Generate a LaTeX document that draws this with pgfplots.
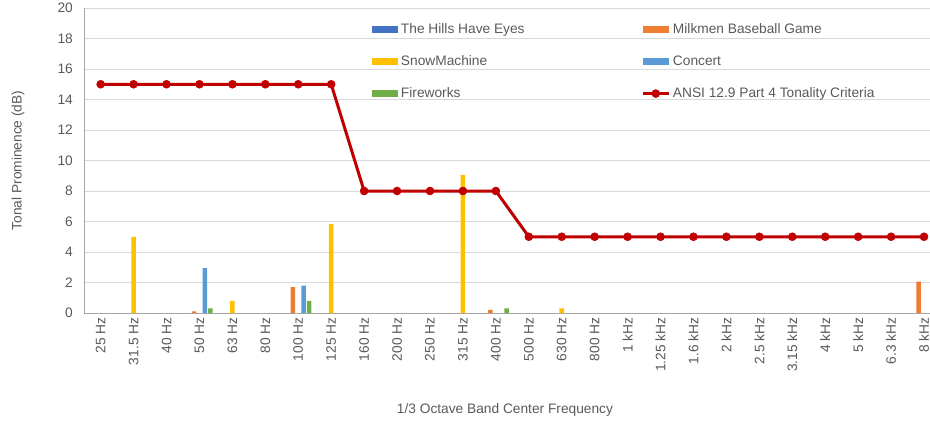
\documentclass[border=0pt]{standalone}
\usepackage{pgfplots}
\pgfplotsset{compat=1.18}
\usepackage{fontspec}
\setmainfont{Liberation Sans}
\definecolor{hills}{HTML}{4472C4}
\definecolor{milk}{HTML}{ED7D31}
\definecolor{snow}{HTML}{FFC000}
\definecolor{concert}{HTML}{5B9BD5}
\definecolor{fire}{HTML}{70AD47}
\definecolor{ansi}{HTML}{C00000}
\definecolor{txt}{HTML}{595959}
\definecolor{gridc}{HTML}{D9D9D9}
\definecolor{axc}{HTML}{A6A6A6}
\pgfplotsset{
  barleg/.style={legend image code/.code={\fill[##1] (0pt,-2.6pt) rectangle (19.5pt,2.6pt);}},
  lineleg/.style={legend image code/.code={\draw[mark repeat=2,mark phase=2,##1] plot coordinates {(0pt,0pt)(9.75pt,0pt)(19.5pt,0pt)};}},
}
\begin{document}
\begin{tikzpicture}
\begin{axis}[
  scale only axis, width=642.2pt, height=228.75pt,
  xmin=-0.5, xmax=25.5, ymin=0, ymax=20,
  ytick={0,2,...,20},
  xtick={0,...,25},
  xticklabels={25 Hz,31.5 Hz,40 Hz,50 Hz,63 Hz,80 Hz,100 Hz,125 Hz,160 Hz,200 Hz,250 Hz,315 Hz,400 Hz,500 Hz,630 Hz,800 Hz,1 kHz,1.25 kHz,1.6 kHz,2 kHz,2.5 kHz,3.15 kHz,4 kHz,5 kHz,6.3 kHz,8 kHz},
  /pgf/number format/assume math mode=true,
  x tick label style={rotate=90, anchor=east, font=\fontsize{10.3}{12}\selectfont, text=txt},
  y tick label style={font=\fontsize{10.3}{12}\selectfont, text=txt, xshift=-5pt},
  major tick length=0pt,
  axis x line*=bottom, axis y line*=left,
  axis line style={-, axc, line width=0.75pt},
  ymajorgrids, grid style={gridc, line width=0.75pt},
  bar width=3.4pt,
  xlabel={1/3 Octave Band Center Frequency},
  ylabel={Tonal Prominence (dB)},
  xlabel style={at={(axis description cs:0.4914,-0.318)}, anchor=center, font=\fontsize{10.3}{12}\selectfont, text=txt},
  ylabel style={at={(axis description cs:-0.0771,0.5)}, anchor=center, font=\fontsize{10.3}{12}\selectfont, text=txt},
  legend columns=2,
  legend cell align=left,
  legend style={draw=none, fill=none, at={(0.3315,0.966)}, anchor=north west,
    font=\fontsize{10.3}{12}\selectfont, text=txt, row sep=10.9pt,
    /tikz/every even column/.append style={column sep=85.5pt}},
]
\addplot[ybar, bar shift=-8.1pt, fill=hills, draw=none, barleg] coordinates {(0,0)};
\addlegendentry{The Hills Have Eyes}
\addplot[ybar, bar shift=-4.05pt, fill=milk, draw=none, barleg] coordinates {(3,0.1) (6,1.7) (12,0.2) (25,2.05)};
\addlegendentry{Milkmen Baseball Game}
\addplot[ybar, bar shift=0pt, fill=snow, draw=none, barleg] coordinates {(1,5.0) (4,0.8) (7,5.85) (11,9.05) (14,0.3)};
\addlegendentry{SnowMachine}
\addplot[ybar, bar shift=4.05pt, fill=concert, draw=none, barleg] coordinates {(3,2.95) (6,1.8)};
\addlegendentry{Concert}
\addplot[ybar, bar shift=8.1pt, fill=fire, draw=none, barleg] coordinates {(3,0.3) (6,0.8) (12,0.3)};
\addlegendentry{Fireworks}
\addplot[sharp plot, ansi, line width=2.25pt, mark=*, mark size=3pt, mark options={solid, fill=ansi, draw=ansi, line width=0.4pt}, lineleg] coordinates {
(0,15) (1,15) (2,15) (3,15) (4,15) (5,15) (6,15) (7,15)
(8,8) (9,8) (10,8) (11,8) (12,8)
(13,5) (14,5) (15,5) (16,5) (17,5) (18,5) (19,5) (20,5) (21,5) (22,5) (23,5) (24,5) (25,5)};
\addlegendentry{ANSI 12.9 Part 4 Tonality Criteria}
\end{axis}
\pgfresetboundingbox
\path[use as bounding box] (-63.15pt,-81.75pt) rectangle (634.35pt,234.75pt);
\end{tikzpicture}
\end{document}
